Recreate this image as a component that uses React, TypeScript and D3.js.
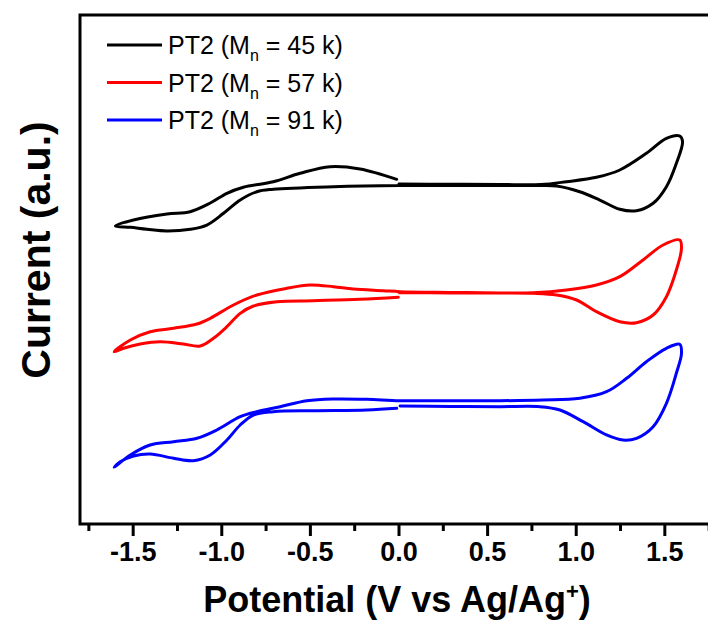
import React from 'react';
import * as d3 from 'd3';

// ---------- data (potential in V vs Ag/Ag+, current in arbitrary units) ----------
const seriesLabels = ['45 k', '57 k', '91 k'];
const seriesColors = ['#000000', '#ff0000', '#0000ff'];

const pt45Potential = [0.0, 0.29, 0.57, 0.8, 0.945, 1.114, 1.246, 1.396, 1.509, 1.584, 1.6, 1.565, 1.509, 1.434, 1.34, 1.246, 1.133, 1.02, 0.889, 0.795, 0.57, 0.29, 0.006, -0.37, -0.709, -0.802, -0.896, -0.99, -1.084, -1.178, -1.309, -1.422, -1.516, -1.6, -1.498, -1.309, -1.178, -1.065, -0.971, -0.878, -0.709, -0.558, -0.389, -0.22, -0.013];
const pt45Current = [6.68, 6.675, 6.67, 6.67, 6.725, 6.811, 6.955, 7.283, 7.578, 7.623, 7.511, 7.086, 6.627, 6.301, 6.155, 6.183, 6.365, 6.528, 6.64, 6.65, 6.65, 6.65, 6.65, 6.627, 6.576, 6.528, 6.365, 6.104, 5.874, 5.79, 5.756, 5.79, 5.829, 5.855, 5.972, 6.09, 6.136, 6.306, 6.497, 6.615, 6.725, 6.89, 7.02, 6.975, 6.772];

const pt57Potential = [0.0, 0.29, 0.57, 0.757, 0.945, 1.114, 1.246, 1.377, 1.49, 1.584, 1.594, 1.565, 1.509, 1.434, 1.34, 1.246, 1.114, 1.002, 0.889, 0.757, 0.57, 0.29, 0.006, -0.089, -0.258, -0.37, -0.502, -0.633, -0.802, -0.934, -1.065, -1.14, -1.272, -1.404, -1.516, -1.607, -1.554, -1.46, -1.347, -1.216, -1.122, -1.047, -0.971, -0.896, -0.821, -0.689, -0.483, -0.22, -0.004];
const pt57Current = [4.544, 4.54, 4.54, 4.544, 4.597, 4.695, 4.859, 5.187, 5.481, 5.58, 5.417, 4.99, 4.466, 4.106, 3.955, 3.974, 4.171, 4.401, 4.499, 4.532, 4.54, 4.55, 4.564, 4.584, 4.617, 4.662, 4.695, 4.631, 4.499, 4.303, 4.041, 3.929, 3.845, 3.778, 3.615, 3.385, 3.452, 3.536, 3.582, 3.536, 3.497, 3.648, 3.876, 4.139, 4.283, 4.367, 4.387, 4.415, 4.454];

const pt91Potential = [0.006, 0.29, 0.57, 0.795, 0.908, 1.039, 1.171, 1.264, 1.34, 1.434, 1.509, 1.565, 1.594, 1.584, 1.509, 1.396, 1.284, 1.171, 1.02, 0.812, 0.57, 0.29, 0.006, -0.182, -0.37, -0.52, -0.671, -0.802, -0.896, -1.028, -1.14, -1.272, -1.404, -1.516, -1.607, -1.573, -1.498, -1.404, -1.272, -1.16, -1.065, -0.971, -0.896, -0.821, -0.709, -0.483, -0.182, -0.013];
const pt91Current = [2.318, 2.31, 2.305, 2.305, 2.24, 2.01, 1.749, 1.65, 1.684, 1.912, 2.371, 2.961, 3.354, 3.53, 3.452, 3.189, 2.862, 2.599, 2.47, 2.436, 2.422, 2.422, 2.422, 2.45, 2.456, 2.422, 2.305, 2.206, 2.108, 1.847, 1.684, 1.617, 1.552, 1.356, 1.114, 1.224, 1.336, 1.375, 1.291, 1.244, 1.356, 1.65, 1.945, 2.141, 2.206, 2.226, 2.24, 2.273];

const majorTicks = [-1.5, -1.0, -0.5, 0.0, 0.5, 1.0, 1.5];
const minorTicks = [-1.75, -1.25, -0.75, -0.25, 0.25, 0.75, 1.25, 1.75];

const seriesPotentials = [pt45Potential, pt57Potential, pt91Potential];
const seriesCurrents = [pt45Current, pt57Current, pt91Current];

const FONT = 'Arial, "Liberation Sans", Helvetica, sans-serif';

export default function App() {
  const W = 708;
  const H = 626;
  const left = 80, right = 718, top = 15, bottom = 524;
  const x = d3.scaleLinear().domain([-1.8, 1.8]).range([left, right]);
  const y = d3.scaleLinear().domain([0, 10]).range([bottom, top]);
  const line = d3
    .line<[number, number]>()
    .x((d) => x(d[0]))
    .y((d) => y(d[1]))
    .curve(d3.curveCatmullRom.alpha(0.5));

  const legendY = [45, 82.5, 120];

  return (
    <svg
      width={W}
      height={H}
      style={{ position: 'absolute', left: 0, top: 0, background: '#fff' }}
      fontFamily={FONT}
    >
      <rect x={0} y={0} width={W} height={H} fill="#fff" />
      {/* curves */}
      {seriesPotentials.map((pv, i) => {
        const pts: [number, number][] = pv.map((v, j) => [v, seriesCurrents[i][j]]);
        return (
          <path
            key={i}
            d={line(pts) || ''}
            fill="none"
            stroke={seriesColors[i]}
            strokeWidth={3}
            strokeLinejoin="round"
            strokeLinecap="round"
          />
        );
      })}
      {/* frame */}
      <rect x={left} y={top} width={right - left} height={bottom - top} fill="none" stroke="#000" strokeWidth={3} />
      {/* ticks */}
      {majorTicks.map((t) => (
        <g key={'M' + t}>
          <line x1={x(t)} x2={x(t)} y1={bottom} y2={bottom + 12} stroke="#000" strokeWidth={3} />
          <text x={x(t)} y={561} textAnchor="middle" fontSize={27} fontWeight="bold">
            {t.toFixed(1)}
          </text>
        </g>
      ))}
      {minorTicks.map((t) => (
        <line key={'m' + t} x1={x(t)} x2={x(t)} y1={bottom} y2={bottom + 7} stroke="#000" strokeWidth={3} />
      ))}
      {/* axis titles */}
      <text x={(left + right) / 2 - 2} y={612} textAnchor="middle" fontSize={36} fontWeight="bold">
        Potential (V vs Ag/Ag
        <tspan dy={-13} fontSize={22}>+</tspan>
        <tspan dy={13}>)</tspan>
      </text>
      <text
        transform={`translate(50, 250) rotate(-90)`}
        textAnchor="middle"
        fontSize={41}
        fontWeight="bold"
      >
        Current (a.u.)
      </text>
      {/* legend */}
      {seriesLabels.map((lab, i) => (
        <g key={'L' + i}>
          <line x1={107} x2={162} y1={legendY[i]} y2={legendY[i]} stroke={seriesColors[i]} strokeWidth={3} />
          <text x={168} y={legendY[i] + 9} fontSize={25}>
            PT2 (M
            <tspan dy={7} fontSize={16}>n</tspan>
            <tspan dy={-7}>{' = ' + lab + ')'}</tspan>
          </text>
        </g>
      ))}
    </svg>
  );
}
